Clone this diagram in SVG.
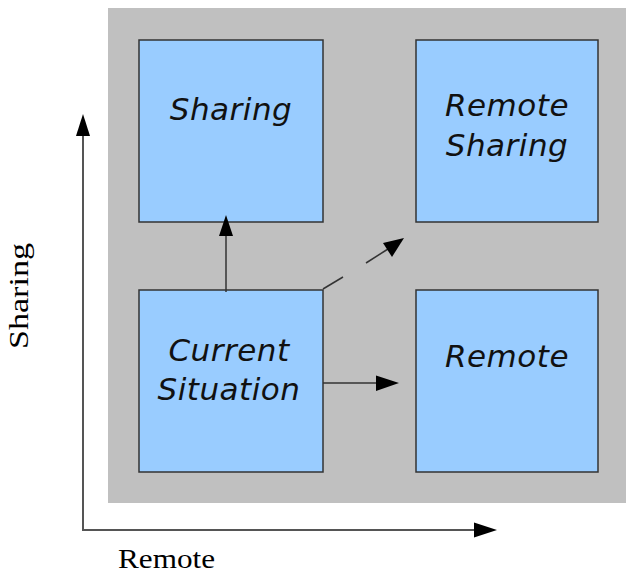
<svg xmlns="http://www.w3.org/2000/svg" width="626" height="574" viewBox="0 0 626 574">
  <style>
    .box { fill: #99ccff; stroke: #333333; stroke-width: 1.5; }
    .lbl { font-family: "DejaVu Sans", Verdana, sans-serif; font-style: italic; font-size: 31px; fill: #111111; text-anchor: middle; letter-spacing: 0.5px; }
    .axis-lbl { font-family: "Liberation Serif", "Times New Roman", serif; font-size: 27px; fill: #000000; }
    .link { stroke: #333333; stroke-width: 1.5; fill: none; }
    .axis { stroke: #555555; stroke-width: 2; fill: none; }
    .head { fill: #000000; stroke: none; }
  </style>

  <!-- quadrant backdrop -->
  <rect x="108" y="8" width="518" height="495" fill="#c0c0c0"/>

  <!-- axes -->
  <g id="axes">
    <polyline class="axis" points="83,132 83,530 478,530"/>
    <polygon class="head" points="83,114 76,136 90,136"/>
    <polygon class="head" points="497,530 474,522.5 474,537.5"/>
    <text class="axis-lbl" transform="translate(28,349) rotate(-90)" textLength="106" lengthAdjust="spacingAndGlyphs">Sharing</text>
    <text class="axis-lbl" x="118" y="568" textLength="97" lengthAdjust="spacingAndGlyphs">Remote</text>
  </g>

  <g id="node-sharing">
    <rect class="box" x="139" y="40" width="184" height="182"/>
    <text class="lbl" x="231" y="120">Sharing</text>
  </g>

  <g id="node-remote-sharing">
    <rect class="box" x="416" y="40" width="182" height="182"/>
    <text class="lbl" x="507" y="116">Remote</text>
    <text class="lbl" x="507" y="156">Sharing</text>
  </g>

  <g id="node-current">
    <rect class="box" x="139" y="290" width="184" height="182"/>
    <text class="lbl" x="229" y="361">Current</text>
    <text class="lbl" x="229" y="400">Situation</text>
  </g>

  <g id="node-remote">
    <rect class="box" x="416" y="290" width="182" height="182"/>
    <text class="lbl" x="507" y="367">Remote</text>
  </g>

  <!-- connectors -->
  <g id="connectors">
    <line class="link" x1="226" y1="292" x2="226" y2="233"/>
    <polygon class="head" points="226,215 219,236 233,236"/>

    <line class="link" x1="323" y1="383" x2="378" y2="383"/>
    <polygon class="head" points="399,383 376,375.5 376,391"/>

    <line class="link" x1="323" y1="289" x2="343" y2="277"/>
    <line class="link" x1="366" y1="263" x2="388" y2="249"/>
    <polygon class="head" points="404,238 383,243 392,257"/>
  </g>
</svg>
